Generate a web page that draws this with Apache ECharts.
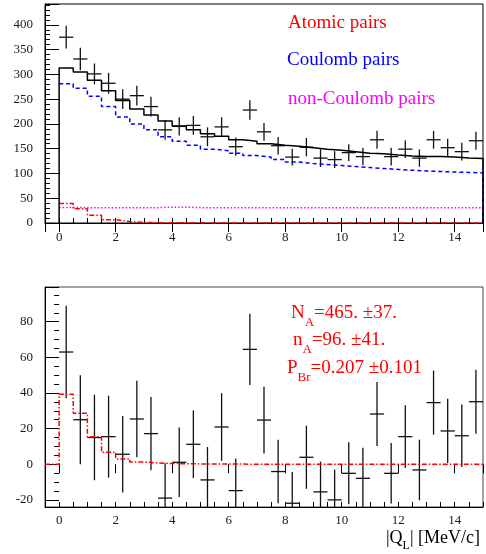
<!DOCTYPE html>
<html>
<head>
<meta charset="utf-8">
<script src="https://cdn.jsdelivr.net/npm/echarts@6/dist/echarts.min.js"></script>
<style>html,body{margin:0;padding:0;background:#fff;}#c{width:486px;height:554px;}</style>
</head>
<body>
<div id="c"></div>
<script>
// ---- data ----
const binWidth = 0.5;
const binCenters = [0.25,0.75,1.25,1.75,2.25,2.75,3.25,3.75,4.25,4.75,5.25,5.75,6.25,6.75,7.25,7.75,8.25,8.75,9.25,9.75,10.25,10.75,11.25,11.75,12.25,12.75,13.25,13.75,14.25,14.75];
// top panel: measured spectrum
const dataCounts = [375,331,301,282,250,257,235,188,195,197,174,194,154,228,184,156,133,153,131,128,142,134,168,134,149,131,168,152,144,166];
const dataErrors = [23,22.5,21,21,20,20,20,20,18.5,19,19,19.5,18.5,19.5,18,17.5,17,18.5,18,17,17,17.5,18,18,18,17.5,18,18,18,18];
// fitted components
const totalFit   = [313,305,288,267,247,230,218,206,196,188,180,175,168,165,160,157,155,152,149,147,144,141,140,137,135,134,134,133,131,130];
const coulomb    = [281,272,256,235,214,200,188,174,165,157,149,146,141,136,133,128,123,120,118,116,114,112,110,108,106.5,105,104,103,102,101];
const nonCoulomb = [31.5,31,31,31,31,31,31,32,32,31,31,31,31,31,31,31,31,31,31,31,31,31,31,31,31,31,31,31,31,31];
const atomic     = [39.3,28.6,15.5,6.8,3.0,1.3,0.7,0.4,0.3,0.2,0.1,0.1,0.1,0,0,0,0,0,0,0,0,0,0,0,0,0,0,0,0,0];
// bottom panel: residuals
const residuals   = [63,25,15,15.5,5.6,25.4,17.2,-19,1.1,11.2,-8.8,20.9,-14.8,64.5,24.8,-4.1,-21.9,3.9,-15.5,-20,-5.1,-7.9,28.2,-5.1,15.5,-3.2,34.6,18.7,16,35.1];
const residErrors = [26,25,24,23,21.5,21.5,20.5,19.5,19.5,19,18.5,19,18,20,18.7,17.8,17.5,17.7,17,17,17.4,17.2,18,17,17.6,17,18,18,17.6,18];
// axes
const xRange = [-0.5, 15];
const yTopRange = [0, 442];
const yBotRange = [-24, 99.5];
const legendTexts = ['Atomic pairs', 'Coulomb pairs', 'non-Coulomb pairs'];

// ---- helpers ----
function histPoints(values, startZero, leadIn) {
  const pts = [];
  if (leadIn) pts.push([xRange[0], 0]);
  if (startZero) pts.push([binCenters[0] - binWidth / 2, 0]);
  values.forEach((v, i) => {
    pts.push([binCenters[i] - binWidth / 2, v]);
    pts.push([binCenters[i] + binWidth / 2, v]);
  });
  return pts;
}
function crossData(vals, errs) {
  return binCenters.map((c, i) => [c, vals[i], errs[i]]);
}
function crossRender(params, api) {
  const x = api.value(0), y = api.value(1), e = api.value(2);
  const h = binWidth / 2;
  const a = api.coord([x - h, y]), b = api.coord([x + h, y]);
  const t = api.coord([x, y + e]), d = api.coord([x, y - e]);
  const st = {stroke: '#111', lineWidth: 1.3};
  return {type: 'group', children: [
    {type: 'line', shape: {x1: a[0], y1: a[1], x2: b[0], y2: b[1]}, style: st},
    {type: 'line', shape: {x1: t[0], y1: t[1], x2: d[0], y2: d[1]}, style: st}
  ]};
}
const labelFont = {fontFamily: 'Liberation Serif', fontSize: 13, color: '#1a1a1a'};
function xAxes(grid, margin) {
  return [
    {type: 'value', gridIndex: grid, min: xRange[0], max: xRange[1], interval: 0.5,
      axisLine: {show: true, onZero: false, lineStyle: {color: '#000', width: 1}},
      axisTick: {show: true, inside: true, length: 5, lineStyle: {color: '#000'}},
      axisLabel: Object.assign({margin: margin, formatter: v => (Math.abs(v % 2) < 1e-9 && v >= 0 && v <= 14) ? String(v) : ''}, labelFont),
      splitLine: {show: false}},
    {type: 'value', gridIndex: grid, min: xRange[0], max: xRange[1], splitNumber: 8,
      axisLine: {show: false}, axisTick: {show: true, inside: true, length: 9, lineStyle: {color: '#000'}},
      axisLabel: {show: false}, splitLine: {show: false}}
  ];
}
const yAxesList = [
  {type: 'value', gridIndex: 0, min: yTopRange[0], max: yTopRange[1], interval: 10,
    axisLine: {show: true, onZero: false, lineStyle: {color: '#000'}},
    axisTick: {show: true, inside: true, length: 5, lineStyle: {color: '#000'}},
    axisLabel: Object.assign({margin: 12, formatter: v => (v % 50 === 0 && v <= 400) ? String(v) : ''}, labelFont),
    splitLine: {show: false}},
  {type: 'value', gridIndex: 0, min: yTopRange[0], max: yTopRange[1], interval: 50,
    axisLine: {show: false}, axisTick: {show: true, inside: true, length: 9, lineStyle: {color: '#000'}},
    axisLabel: {show: false}, splitLine: {show: false}},
  {type: 'value', gridIndex: 1, min: yBotRange[0], max: yBotRange[1], splitNumber: 6,
    axisLine: {show: true, onZero: false, lineStyle: {color: '#000'}},
    axisTick: {show: true, inside: true, length: 9, lineStyle: {color: '#000'}},
    axisLabel: Object.assign({margin: 12, formatter: v => (Math.abs(v % 20) < 1e-9) ? String(v) : ''}, labelFont),
    splitLine: {show: false}},
  {type: 'value', gridIndex: 1, min: yBotRange[0], max: yBotRange[1], splitNumber: 25,
    axisLine: {show: false}, axisTick: {show: true, inside: true, length: 5, lineStyle: {color: '#000'}},
    axisLabel: {show: false}, splitLine: {show: false}}
];

const serif = 'Liberation Serif';
function richStyle(color, main) {
  return {
    m: {fontFamily: serif, fontSize: main, fill: color, lineHeight: main + 3, verticalAlign: 'top'},
    s: {fontFamily: serif, fontSize: Math.round(main * 0.68), fill: color, lineHeight: Math.round(main * 0.72), padding: [Math.round(main * 0.62), 0, 0, 0], verticalAlign: 'top'}
  };
}

const chart = echarts.init(document.getElementById('c'), null, {renderer: 'canvas'});
chart.setOption({
  animation: false,
  backgroundColor: '#fff',
  grid: [
    {left: 45, right: 1, top: 4, height: 219, show: true, borderColor: '#000', borderWidth: 1, backgroundColor: 'transparent'},
    {left: 45, right: 1, top: 287, height: 220, show: true, borderColor: '#444', borderWidth: 1, backgroundColor: 'transparent'}
  ],
  xAxis: xAxes(0, 8).concat(xAxes(1, 7)),
  yAxis: yAxesList,
  series: [
    {type: 'line', xAxisIndex: 0, yAxisIndex: 0, data: histPoints(nonCoulomb, false), symbol: 'none',
      lineStyle: {color: '#ff00ff', width: 1.5, type: [1.5, 2]}},
    {type: 'line', xAxisIndex: 0, yAxisIndex: 0, data: histPoints(atomic, false), symbol: 'none',
      lineStyle: {color: '#ff0000', width: 1.5, type: [5, 2, 1.5, 2]}},
    {type: 'line', xAxisIndex: 0, yAxisIndex: 0, data: histPoints(coulomb, false).concat([[xRange[1], 0]]), symbol: 'none',
      lineStyle: {color: '#0000ff', width: 1.5, type: [4, 3]}},
    {type: 'line', xAxisIndex: 0, yAxisIndex: 0, data: histPoints(totalFit, true).concat([[xRange[1], 0]]), symbol: 'none',
      lineStyle: {color: '#000', width: 1.5}},
    {type: 'custom', xAxisIndex: 0, yAxisIndex: 0, data: crossData(dataCounts, dataErrors), renderItem: crossRender, clip: true},
    {type: 'line', xAxisIndex: 2, yAxisIndex: 2, data: histPoints(atomic, true, true), symbol: 'none',
      lineStyle: {color: '#ff0000', width: 1.5, type: [5, 2, 1.5, 2]}},
    {type: 'custom', xAxisIndex: 2, yAxisIndex: 2, data: crossData(residuals, residErrors), renderItem: crossRender, clip: true}
  ],
  graphic: [
    {type: 'text', left: 288, top: 14, style: {text: legendTexts[0], fill: '#ff0000', font: '19px "Liberation Serif"'}},
    {type: 'text', left: 287, top: 51, style: {text: legendTexts[1], fill: '#0000ff', font: '19px "Liberation Serif"'}},
    {type: 'text', left: 288, top: 90, style: {text: legendTexts[2], fill: '#ff00ff', font: '19px "Liberation Serif"'}},
    {type: 'text', left: 291, top: 304, style: {text: '{m|N}{s|A}{m|=465. ±37.}', fill: '#ff0000', rich: richStyle('#ff0000', 19)}},
    {type: 'text', left: 293, top: 331, style: {text: '{m|n}{s|A}{m|=96. ±41.}', fill: '#ff0000', rich: richStyle('#ff0000', 19)}},
    {type: 'text', left: 287, top: 359, style: {text: '{m|P}{s|Br}{m|=0.207 ±0.101}', fill: '#ff0000', rich: richStyle('#ff0000', 19)}},
    {type: 'text', left: 386, top: 529, style: {text: '{m||Q}{s|L}{m|| [MeV/c]}', fill: '#000', rich: richStyle('#000', 18)}}
  ]
});
</script>
</body>
</html>
